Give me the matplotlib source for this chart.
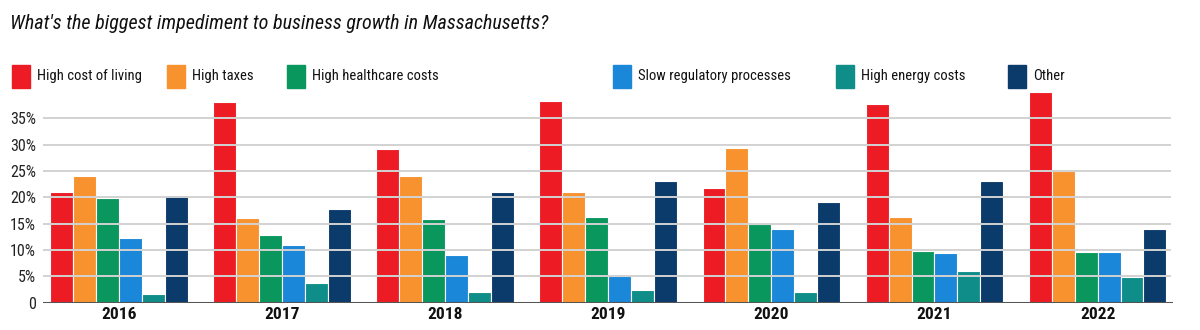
import numpy as np
import matplotlib
matplotlib.use("Agg")
import matplotlib.pyplot as plt
from matplotlib.patches import Rectangle

years = ["2016", "2017", "2018", "2019", "2020", "2021", "2022"]
labels = ["High cost of living", "High taxes", "High healthcare costs",
          "Slow regulatory processes", "High energy costs", "Other"]
cost_of_living = [21.0, 38.0, 29.1, 38.3, 21.8, 37.7, 40.0]
taxes = [24.1, 16.0, 24.0, 21.1, 29.4, 16.2, 25.0]
healthcare = [19.8, 12.8, 15.9, 16.3, 14.9, 9.9, 9.6]
regulatory = [12.3, 11.0, 9.1, 5.1, 13.9, 9.4, 9.6]
energy = [1.6, 3.7, 2.1, 2.4, 2.0, 6.1, 4.8]
other = [20.4, 17.8, 21.0, 23.0, 19.1, 23.0, 13.9]
yticks = [0, 5, 10, 15, 20, 25, 30, 35]

series = [cost_of_living, taxes, healthcare, regulatory, energy, other]
colors = ["#ED1C24", "#F7922F", "#0A975E", "#1A87D8", "#0E8D89", "#0B3B6B"]

plt.rcParams['font.family'] = ['Roboto Condensed', 'DejaVu Sans']

fig = plt.figure(figsize=(12, 3.3), dpi=100)
ax = fig.add_axes([0.0356, 0.0827, 0.9419, 0.642])

x = np.arange(len(years))
w = 0.1405
for i, (vals, c) in enumerate(zip(series, colors)):
    ax.bar(x + (i - 2.5) * w, vals, width=w, color=c, edgecolor="white",
           linewidth=0.8, zorder=2)

# grid sits on top of the bars like in the original
for t in yticks[1:]:
    ax.axhline(t, color="#d2d2d2", lw=1.4, zorder=3, xmax=0.997)
ax.axhline(0, color="#555555", lw=2.2, zorder=4)

ax.set_xlim(-0.466, 6.462)
ax.set_ylim(0, 40.2)
ax.set_yticks(yticks)
ax.set_yticklabels(["0"] + [f"{t}%" for t in yticks[1:]], fontsize=11.5, color="#222222")
ax.set_xticks(x)
ax.set_xticklabels(years, fontsize=12.5, fontweight="bold", color="#111111")
ax.tick_params(length=0, pad=5)
ax.tick_params(axis="x", pad=3)
for s in ax.spines.values():
    s.set_visible(False)

fig.text(0.008, 0.93, "What's the biggest impediment to business growth in Massachusetts?",
         fontsize=14.5, style="italic", color="#111111", va="center", ha="left")

# legend drawn by hand
sq_x = [12, 167, 287, 613, 836, 1008]
for i, (lab, c) in enumerate(zip(labels, colors)):
    x0 = sq_x[i] / 1200
    fig.patches.append(Rectangle((x0, 1 - 88 / 330), 18 / 1200, 23 / 330,
                                 transform=fig.transFigure, color=c))
    fig.text(x0 + 25 / 1200, 1 - 76 / 330, lab, fontsize=10.5, color="#111111",
             va="center", ha="left")

fig.savefig("out.png", dpi=100)
